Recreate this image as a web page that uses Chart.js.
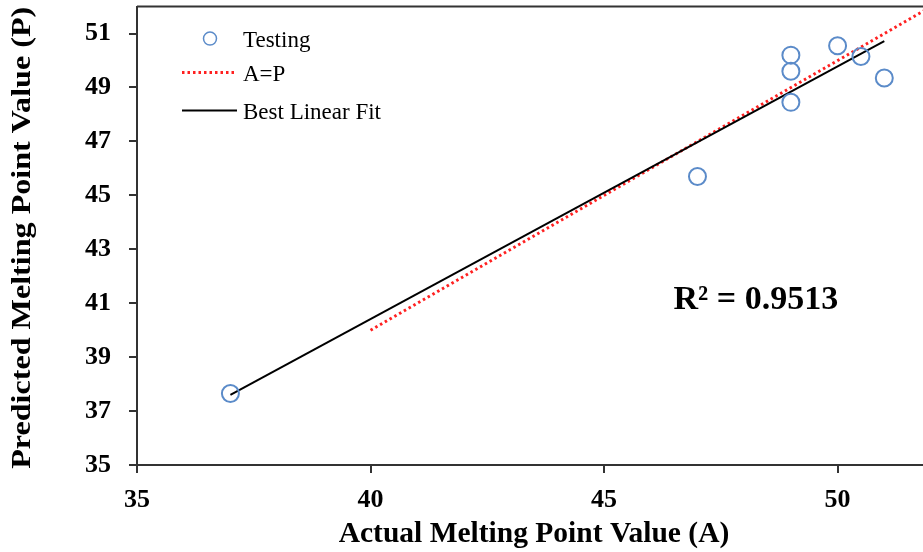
<!DOCTYPE html>
<html>
<head>
<meta charset="utf-8">
<script src="https://cdn.jsdelivr.net/npm/chart.js@4/dist/chart.umd.min.js"></script>
<style>
    html, body { margin: 0; padding: 0; background: #fff; overflow: hidden; }
    #wrap { width: 945px; height: 579px; margin-top: -27px; }
</style>
</head>
<body>
<div id="wrap"><canvas id="diagram"></canvas></div>
<script>
// testing points: actual (A) vs predicted (P)
const actual = [37, 47, 49, 49, 49, 50, 50.5, 51];
const predicted = [37.65, 45.7, 48.45, 49.6, 50.2, 50.55, 50.15, 49.35];

// A=P reference line and best linear fit end points
const idealX = [40, 52];
const idealY = [40, 52];
const fitX = [37, 51];
const fitY = [37.6, 50.72];

const xTicks = [35, 40, 45, 50];
const yTicks = [35, 37, 39, 41, 43, 45, 47, 49, 51];

const yTitle = 'Predicted Melting Point Value (P)';
const r2Label = 'R² = 0.9513';
const r2Pos = [48.25, 41.1];

window.onload = init;

function init() {
    createChart();
}

const serif = '"Liberation Serif", "Times New Roman", serif';

const framePlugin = {
    id: 'frame',
    afterDraw(chart) {
        const ctx = chart.ctx;
        const area = chart.chartArea;
        const xs = chart.scales.x;
        const ys = chart.scales.y;

        ctx.save();
        // top border
        ctx.strokeStyle = '#333';
        ctx.lineWidth = 2;
        ctx.beginPath();
        ctx.moveTo(area.left, area.top);
        ctx.lineTo(area.right, area.top);
        ctx.stroke();

        // y title, stretched a bit like the original
        ctx.save();
        ctx.font = 'bold 28px ' + serif;
        ctx.fillStyle = '#000';
        ctx.textAlign = 'center';
        ctx.textBaseline = 'middle';
        ctx.translate(23, (area.top + area.bottom) / 2 + 2);
        ctx.rotate(-Math.PI / 2);
        const w = ctx.measureText(yTitle).width;
        ctx.scale(462 / w, 1);
        ctx.fillText(yTitle, 0, 0);
        ctx.restore();

        // R² text
        ctx.fillStyle = '#000';
        ctx.font = 'bold 34px ' + serif;
        ctx.textAlign = 'center';
        ctx.textBaseline = 'middle';
        ctx.fillText(r2Label, xs.getPixelForValue(r2Pos[0]), ys.getPixelForValue(r2Pos[1]));

        // legend inside plot
        const sets = chart.data.datasets;
        const lx = 182, tx = 243;
        const rows = [38, 72, 110].map(v => v + area.top - 6);
        ctx.font = '23px ' + serif;
        ctx.textAlign = 'left';
        sets.forEach((ds, i) => {
            const y = rows[i];
            ctx.strokeStyle = ds.borderColor;
            ctx.lineWidth = ds.borderWidth;
            if (ds.showLine) {
                ctx.setLineDash(ds.borderDash || []);
                ctx.beginPath();
                ctx.moveTo(lx, y);
                ctx.lineTo(tx - 6, y);
                ctx.stroke();
                ctx.setLineDash([]);
            } else {
                ctx.lineWidth = 1.5;
                ctx.beginPath();
                ctx.arc(210, y, 6.5, 0, Math.PI * 2);
                ctx.stroke();
            }
            ctx.fillStyle = '#000';
            ctx.fillText(ds.label, tx, y + 2);
        });
        ctx.restore();
    }
};

function createChart() {
    const ctx = document.getElementById('diagram').getContext('2d');

    new Chart(ctx, {
        type: 'scatter',
        data: {
            datasets: [
                {
                    label: 'Testing',
                    data: actual.map((a, i) => ({ x: a, y: predicted[i] })),
                    showLine: false,
                    pointStyle: 'circle',
                    pointRadius: 8.5,
                    pointBorderWidth: 2,
                    borderWidth: 2,
                    borderColor: '#5b8bc9',
                    backgroundColor: 'rgba(0,0,0,0)',
                    order: 0
                },
                {
                    label: 'A=P',
                    data: idealX.map((a, i) => ({ x: a, y: idealY[i] })),
                    showLine: true,
                    pointRadius: 0,
                    borderColor: '#ff2020',
                    borderWidth: 3,
                    borderDash: [2.5, 3],
                    order: 2
                },
                {
                    label: 'Best Linear Fit',
                    data: fitX.map((a, i) => ({ x: a, y: fitY[i] })),
                    showLine: true,
                    pointRadius: 0,
                    borderColor: '#000',
                    borderWidth: 2,
                    order: 1
                }
            ]
        },
        options: {
            responsive: true,
            maintainAspectRatio: false,
            animation: false,
            layout: { padding: { top: 6, right: 14, left: 0, bottom: 0 } },
            plugins: {
                legend: { display: false },
                tooltip: { enabled: false }
            },
            scales: {
                x: {
                    type: 'linear',
                    min: 35,
                    max: 52,
                    afterBuildTicks: s => { s.ticks = xTicks.map(v => ({ value: v })); },
                    afterFit: s => { s.height = 87; },
                    grid: { display: true, drawOnChartArea: false, drawTicks: true, tickLength: 8, color: '#333', lineWidth: 2 },
                    border: { display: true, color: '#333', width: 2 },
                    ticks: { color: '#000', padding: 12, font: { family: serif, size: 26, weight: 'bold' }, maxRotation: 0 },
                    title: {
                        display: true,
                        text: 'Actual Melting Point Value (A)',
                        color: '#000',
                        padding: { top: 0, bottom: 0 },
                        font: { family: serif, size: 29.5, weight: 'bold' }
                    }
                },
                y: {
                    type: 'linear',
                    min: 35,
                    max: 52,
                    afterBuildTicks: s => { s.ticks = yTicks.map(v => ({ value: v })); },
                    afterFit: s => { s.width = 137; },
                    grid: { display: true, drawOnChartArea: false, drawTicks: true, tickLength: 8, color: '#333', lineWidth: 2 },
                    border: { display: true, color: '#333', width: 2 },
                    ticks: { color: '#000', padding: 18, font: { family: serif, size: 26, weight: 'bold' } },
                    title: { display: false }
                }
            }
        },
        plugins: [framePlugin]
    });
}
</script>
</body>
</html>
